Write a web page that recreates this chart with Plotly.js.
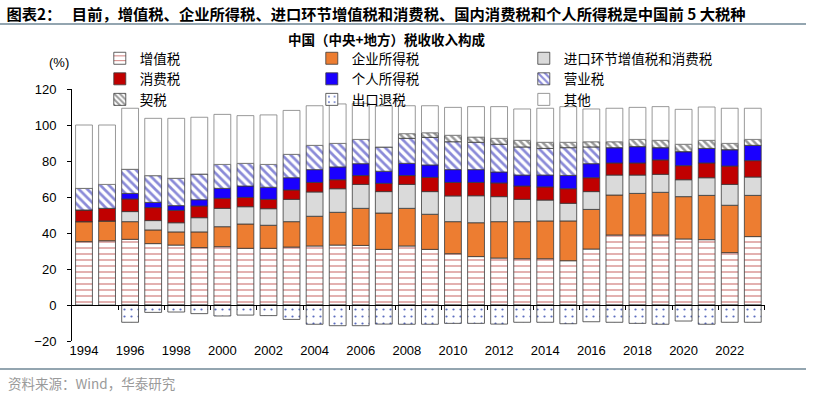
<!DOCTYPE html>
<html><head><meta charset="utf-8">
<script src="https://cdn.plot.ly/plotly-3.0.1.min.js"></script>
<style>html,body{margin:0;padding:0;background:#fff;}#chart{width:813px;height:398px;}</style>
</head><body><div id="chart"></div>
<script>
const years = [1994,1995,1996,1997,1998,1999,2000,2001,2002,2003,2004,2005,2006,2007,2008,2009,2010,2011,2012,2013,2014,2015,2016,2017,2018,2019,2020,2021,2022,2023];
const tickYears = [1994,1996,1998,2000,2002,2004,2006,2008,2010,2012,2014,2016,2018,2020,2022];
const tickLabels = ['1994','1996','1998','2000','2002','2004','2006','2008','2010','2012','2014','2016','2018','2020','2022'];

const vat       = [35.2,35.7,36.5,34.1,33.3,31.9,32.4,31.5,31.5,32.2,32.8,33.3,33.1,30.9,32.8,30.9,28.5,26.9,26.1,25.7,25.7,24.6,31.1,38.9,38.9,38.9,36.7,36.3,29.1,38.0];
const cit       = [11.1,11.0,9.8,7.6,7.3,8.7,11.1,13.5,12.8,14.1,16.5,18.2,20.6,20.2,20.9,19.5,17.8,18.8,20.2,20.6,21.0,22.1,22.0,22.2,23.1,23.7,23.5,24.6,26.3,22.9];
const importTax = [0,0,5.6,5.2,5.1,7.9,10.2,9.6,9.2,12.4,13.5,13.1,13.3,11.9,13.3,12.6,14.3,15.0,13.9,12.4,11.6,9.8,9.9,11.1,10.2,10.0,9.4,9.8,11.6,10.2];
const consumption = [6.5,7.0,7.0,7.2,6.9,6.5,5.6,5.2,5.2,5.2,5.3,5.0,4.9,4.6,4.9,7.9,7.5,7.4,7.6,7.4,7.3,8.1,7.7,6.7,6.7,8.0,7.8,8.2,10.2,9.1];
const pit       = [0,0,3.1,2.9,2.6,3.5,5.5,6.3,6.7,6.8,7.1,7.1,6.6,6.7,6.8,6.9,7.1,7.1,6.1,6.1,6.6,7.4,7.8,8.5,9.1,6.8,7.8,8.1,9.1,8.5];
const business  = [12.0,13.3,13.4,14.9,15.2,14.3,13.3,12.6,12.7,13.0,13.5,13.1,13.5,13.5,13.9,15.3,15.5,15.2,15.4,15.6,14.8,15.4,9.3,0,0,0,0,0,0,0];
const deed      = [0,0,0,0,0,0,0,0,0,0,0,0,0,0,2.6,2.6,3.6,2.9,3.3,3.7,3.4,3.0,2.9,3.3,4.0,4.1,4.1,4.5,3.5,3.3];
const exportRebate = [0,0,-9.6,-4.1,-3.9,-4.8,-6.1,-5.6,-5.9,-8.0,-10.7,-11.5,-11.5,-10.6,-10.7,-10.7,-10.2,-10.2,-10.6,-9.6,-9.6,-10.4,-9.3,-9.6,-10.2,-10.7,-8.9,-10.7,-9.6,-9.6];
const other     = [35.2,33.0,33.9,31.8,33.3,31.5,27.8,26.5,27.5,24.4,22.0,21.9,20.0,22.8,15.5,15.0,15.5,16.9,17.6,17.4,18.9,19.8,18.2,18.6,17.8,18.7,19.4,18.5,19.5,17.3];

const names = ['增值税','企业所得税','进口环节增值税和消费税','消费税','个人所得税','营业税','契税','出口退税','其他'];

const outline = {color:'#3a3a3a', width:0.8};
function bar(name, y, marker){
  return {type:'bar', name:name, x:years, y:y, marker:Object.assign({line:outline}, marker), hoverinfo:'skip'};
}
const traces = [
  bar(names[0], vat, {color:'#ffffff', pattern:{shape:'-', fgcolor:'#c0504d', bgcolor:'#ffffff', fgopacity:0.75, size:6, solidity:0.2}}),
  bar(names[1], cit, {color:'#ed7d31'}),
  bar(names[2], importTax, {color:'#dadada'}),
  bar(names[3], consumption, {color:'#c00000'}),
  bar(names[4], pit, {color:'#1a00ff'}),
  bar(names[5], business, {color:'#ffffff', pattern:{shape:'\\', fgcolor:'#8a8ad8', bgcolor:'#ffffff', size:6, solidity:0.45}}),
  bar(names[6], deed, {color:'#ffffff', pattern:{shape:'\\', fgcolor:'#9a9a9a', bgcolor:'#ffffff', size:5, solidity:0.5}}),
  bar(names[7], exportRebate, {color:'#ffffff', pattern:{shape:'.', fgcolor:'#5a6cc0', bgcolor:'#ffffff', size:7, solidity:0.08}}),
  bar(names[8], other, {color:'#ffffff', line:{color:'#7f7f7f', width:0.8}}),
  {type:'scatter', x:[null], y:[null], xaxis:'x2', yaxis:'y', showlegend:false, hoverinfo:'skip'}
];

const layout = {
  width:813, height:398,
  margin:{l:72, r:48, t:89, b:57},
  paper_bgcolor:'#ffffff', plot_bgcolor:'#ffffff',
  barmode:'relative', bargap:0.27,
  font:{family:'"Liberation Sans", Arial, sans-serif', size:13, color:'#000'},
  title:{text:'<b>图表2：   目前，增值税、企业所得税、进口环节增值税和消费税、国内消费税和个人所得税是中国前 5 大税种</b>',
    font:{family:'"Noto Sans CJK SC", sans-serif', size:15.3, color:'#000'},
    x:0.008, xref:'container', xanchor:'left', y:1-15/398, yref:'container', yanchor:'middle'},
  xaxis:{range:[1993.48,2023.53], tickmode:'array', tickvals:tickYears, ticktext:tickLabels,
    showline:false, showgrid:false, zeroline:false, ticks:'', tickfont:{size:13}},
  xaxis2:{overlaying:'x', anchor:'free', position:20/140, range:[1993.48,2023.53], tickmode:'array',
    tickvals:[1995.5,1997.5,1999.5,2001.5,2003.5,2005.5,2007.5,2009.5,2011.5,2013.5,2015.5,2017.5,2019.5,2021.5,2023.5],
    showticklabels:false, ticks:'outside', ticklen:4, tickcolor:'#000', showline:true, linecolor:'#000', linewidth:1,
    showgrid:false, zeroline:false},
  yaxis:{range:[-20,120], tickmode:'array', tickvals:[-20,0,20,40,60,80,100,120], showline:true, linecolor:'#000', linewidth:1,
    ticks:'outside', ticklen:4, tickcolor:'#000', showgrid:false, zeroline:false, ticklabelstandoff:8, tickfont:{size:13}},
  legend:{orientation:'h', x:0.0401, y:1+(89-43)/252, xanchor:'left', yanchor:'top', entrywidth:167, entrywidthmode:'pixels',
    font:{family:'"Noto Sans CJK SC", sans-serif', size:13.5, color:'#000'}, bgcolor:'rgba(0,0,0,0)', traceorder:'normal', itemwidth:30},
  annotations:[
    {text:'<b>中国（中央+地方）税收收入构成</b>', xref:'paper', yref:'paper', x:(386.5-72)/693, y:1+(89-39)/252, xanchor:'center', yanchor:'middle', showarrow:false,
     font:{family:'"Noto Sans CJK SC", sans-serif', size:13.5, color:'#000'}},
    {text:'(%)', xref:'paper', yref:'paper', x:(59-72)/693, y:1+(89-63)/252, xanchor:'center', yanchor:'middle', showarrow:false, font:{size:13}},
    {text:'资料来源：Wind，华泰研究', xref:'paper', yref:'paper', x:(6-72)/693, y:(341-383)/252, xanchor:'left', yanchor:'middle', showarrow:false,
     font:{family:'"Noto Sans CJK SC", sans-serif', size:13.5, color:'#9a9a9a'}}
  ],
  shapes:[
    {type:'line', xref:'paper', yref:'paper', x0:-72/693, x1:(806-72)/693, y0:1+(89-24)/252, y1:1+(89-24)/252, line:{color:'#6f8796', width:1.5}},
    {type:'line', xref:'paper', yref:'paper', x0:-72/693, x1:(806-72)/693, y0:(341-369)/252, y1:(341-369)/252, line:{color:'#6f8796', width:1.5}}
  ]
};
Plotly.newPlot('chart', traces, layout, {staticPlot:true, displayModeBar:false});
</script></body></html>
